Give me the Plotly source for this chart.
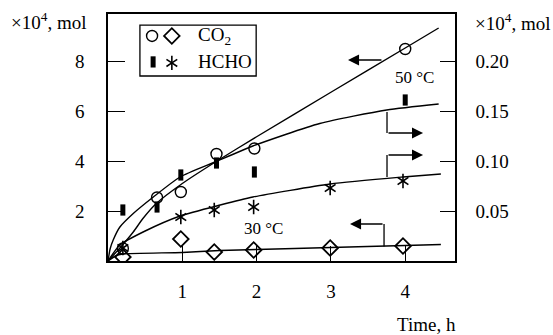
import plotly.graph_objects as go

# ---------------- data ----------------
# measured points, left axis (CO2, x10^4 mol) and right axis (HCHO, x10^4 mol)
t_50 = [0.2, 0.66, 0.98, 1.46, 1.97, 4.0]
co2_50 = [0.50, 2.54, 2.76, 4.28, 4.50, 8.48]
hcho_50 = [0.051, 0.054, 0.086, 0.098, 0.089, 0.161]

t_30 = [0.2, 0.98, 1.43, 1.96, 2.99, 3.97]
co2_30 = [0.16, 0.88, 0.36, 0.44, 0.52, 0.60]
hcho_30 = [0.013, 0.044, 0.051, 0.054, 0.073, 0.080]

# fitted curves
fit_co2_50_t = [0, 0.16, 0.34, 0.47, 0.65, 1.0, 1.44, 2.0, 3.0, 4.0, 4.45]
fit_co2_50_y = [0, 0.52, 1.16, 1.70, 2.30, 3.10, 3.95, 4.97, 6.75, 8.52, 9.32]

fit_hcho_50_t = [0, 0.03, 0.07, 0.16, 0.34, 0.61, 0.97, 1.44, 1.95, 2.85, 3.75, 4.45]
fit_hcho_50_y = [0, 0.0125, 0.021, 0.034, 0.0475, 0.064, 0.084, 0.099, 0.115, 0.1375, 0.151, 0.157]

fit_hcho_30_t = [0, 0.16, 0.5, 0.97, 1.51, 1.95, 2.99, 3.97, 4.48]
fit_hcho_30_y = [0, 0.016, 0.030, 0.045, 0.056, 0.064, 0.077, 0.084, 0.087]

fit_co2_30_t = [0, 0.1, 0.2, 1.0, 1.5, 2.0, 3.0, 4.0, 4.48]
fit_co2_30_y = [0, 0.20, 0.28, 0.34, 0.42, 0.46, 0.54, 0.62, 0.66]

x_ticks = [1, 2, 3, 4]
left_ticks = [2, 4, 6, 8]
right_ticks = [0.05, 0.10, 0.15, 0.20]
right_tick_text = ["0.05", "0.10", "0.15", "0.20"]

FONT = "Liberation Serif"
BLACK = "black"

fig = go.Figure()

# ---------------- curves ----------------
def curve(t, y, axis):
    fig.add_trace(go.Scatter(x=t, y=y, mode="lines", yaxis=axis,
                             line=dict(color=BLACK, width=1.4, shape="spline", smoothing=0.6),
                             hoverinfo="skip", showlegend=False))

curve(fit_co2_50_t, fit_co2_50_y, "y")
curve(fit_hcho_50_t, fit_hcho_50_y, "y2")
curve(fit_hcho_30_t, fit_hcho_30_y, "y2")
curve(fit_co2_30_t, fit_co2_30_y, "y")

CIRCLE = dict(symbol="circle-open", size=11, color=BLACK, line=dict(width=1.4, color=BLACK))
DIAMOND = dict(symbol="diamond-open", size=12, color=BLACK, line=dict(width=1.8, color=BLACK))
SQUARE = dict(symbol="line-ns", size=8, color=BLACK, line=dict(width=5, color=BLACK))
def STAR(sym):
    return dict(symbol=sym, size=9, color=BLACK, line=dict(width=1.6, color=BLACK))

# ---------------- markers ----------------
fig.add_trace(go.Scatter(x=t_50, y=co2_50, mode="markers", yaxis="y", marker=CIRCLE, showlegend=False))
fig.add_trace(go.Scatter(x=t_30, y=co2_30, mode="markers", yaxis="y", marker=DIAMOND, showlegend=False))
fig.add_trace(go.Scatter(x=t_50, y=hcho_50, mode="markers", yaxis="y2", marker=SQUARE, showlegend=False))
for sym in ["y-up-open", "y-down-open"]:
    fig.add_trace(go.Scatter(x=t_30, y=hcho_30, mode="markers", yaxis="y2", marker=STAR(sym),
                             showlegend=False))

# ---------------- legend (drawn in an overlay axis mapped to paper fractions) ----------------
leg_circle = ([0.127], [0.911])
leg_diamond = ([0.184], [0.911])
leg_square = ([0.130], [0.806])
leg_star = ([0.184], [0.802])
fig.add_trace(go.Scatter(x=leg_circle[0], y=leg_circle[1], xaxis="x3", yaxis="y3", mode="markers",
                         marker=CIRCLE, showlegend=False))
fig.add_trace(go.Scatter(x=leg_diamond[0], y=leg_diamond[1], xaxis="x3", yaxis="y3", mode="markers",
                         marker=DIAMOND, showlegend=False))
fig.add_trace(go.Scatter(x=leg_square[0], y=leg_square[1], xaxis="x3", yaxis="y3", mode="markers",
                         marker=SQUARE, showlegend=False))
for sym in ["y-up-open", "y-down-open"]:
    fig.add_trace(go.Scatter(x=leg_star[0], y=leg_star[1], xaxis="x3", yaxis="y3", mode="markers",
                             marker=STAR(sym), showlegend=False))

shapes = [
    dict(type="rect", xref="paper", yref="paper", x0=0.092, x1=0.427, y0=0.749, y1=0.955,
         line=dict(color=BLACK, width=1.3)),
    # vertical stems of the pointer arrows
    dict(type="line", xref="x", yref="y", x0=3.755, x1=3.755, y0=5.96, y1=5.12, line=dict(color=BLACK, width=1.3)),
    dict(type="line", xref="x", yref="y", x0=3.755, x1=3.755, y0=3.36, y1=4.24, line=dict(color=BLACK, width=1.3)),
    dict(type="line", xref="x", yref="y", x0=3.715, x1=3.715, y0=0.58, y1=1.48, line=dict(color=BLACK, width=1.3)),
]

def arrow(x, y, ax, ay):
    return dict(x=x, y=y, ax=ax, ay=ay, xref="x", yref="y", axref="x", ayref="y",
                showarrow=True, arrowhead=2, arrowsize=1.7, arrowwidth=1.3, arrowcolor=BLACK, text="")

def label(x, y, text, xanchor="center", ref="x", size=19):
    return dict(x=x, y=y, xref=ref if ref == "paper" else "x", yref=ref if ref == "paper" else "y",
                xanchor=xanchor, yanchor="middle", text=text, showarrow=False,
                font=dict(family=FONT, size=size, color=BLACK))

annotations = [
    arrow(3.23, 8.04, 3.70, 8.04),
    arrow(4.24, 5.12, 3.755, 5.12),
    arrow(4.24, 4.24, 3.755, 4.24),
    arrow(3.257, 1.48, 3.715, 1.48),
    label(4.12, 7.36, "50 °C", size=17),
    label(2.09, 1.32, "30 °C", size=17),
    label(0.255, 0.911, "CO<sub>2</sub>", xanchor="left", ref="paper"),
    label(0.255, 0.806, "HCHO", xanchor="left", ref="paper"),
    label(-0.058, 0.972, "×10<sup>4</sup>, mol", xanchor="right", ref="paper"),
    label(1.052, 0.968, "×10<sup>4</sup>, mol", xanchor="left", ref="paper"),
    label(1.009, -0.258, "Time, h", xanchor="right", ref="paper"),
]

fig.update_layout(
    width=553, height=335,
    margin=dict(l=108, r=98, t=14, b=74),
    paper_bgcolor="white", plot_bgcolor="white",
    font=dict(family=FONT, size=19, color=BLACK),
    showlegend=False,
    xaxis=dict(range=[0, 4.67], tickvals=x_ticks, ticks="inside", ticklen=15, tickwidth=1.3,
               tickcolor=BLACK, showline=True, linecolor=BLACK, linewidth=1.5, mirror=True,
               showgrid=False, zeroline=False, ticklabelstandoff=12),
    yaxis=dict(range=[0, 9.88], tickvals=left_ticks, ticks="inside", ticklen=17, tickwidth=1.3,
               tickcolor=BLACK, showline=True, linecolor=BLACK, linewidth=1.5,
               showgrid=False, zeroline=False, ticklabelstandoff=18),
    yaxis2=dict(range=[0, 0.247], tickvals=right_ticks, ticktext=right_tick_text, overlaying="y",
                side="right", ticks="inside", ticklen=15, tickwidth=1.3, tickcolor=BLACK,
                showline=True, linecolor=BLACK, linewidth=1.5, showgrid=False, zeroline=False,
                ticklabelstandoff=15),
    xaxis3=dict(overlaying="x", range=[0, 1], visible=False, domain=[0, 1]),
    yaxis3=dict(overlaying="y", range=[0, 1], visible=False, domain=[0, 1]),
    shapes=shapes,
    annotations=annotations,
)

fig.write_html("out.html")
